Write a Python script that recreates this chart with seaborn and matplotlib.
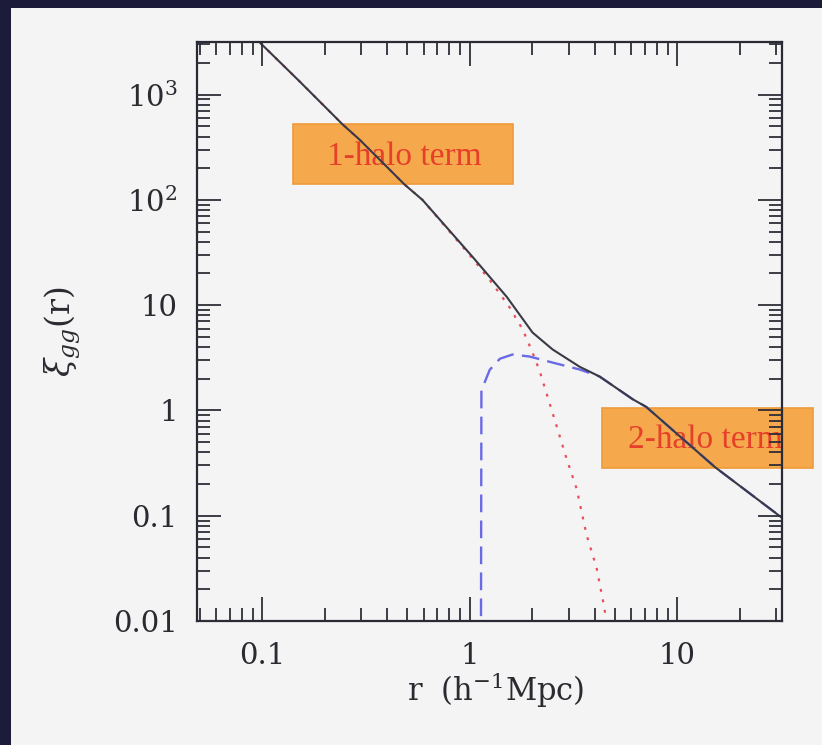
import matplotlib
matplotlib.use("Agg")
import numpy as np
import pandas as pd
import seaborn as sns
import matplotlib.pyplot as plt
from matplotlib.patches import Rectangle
from matplotlib.ticker import FixedLocator, FixedFormatter, LogLocator, NullFormatter

# Galaxy correlation function: total, 1-halo and 2-halo contributions
r_total = [0.098, 0.152, 0.245, 0.295, 0.486, 0.593, 1.03, 1.51, 2.01, 2.51,
           3.39, 4.23, 6.1, 7.1, 15.2, 31.9]
xi_total = [3100, 1330, 519, 374, 140, 100, 29, 12, 5.5, 3.8,
            2.6, 2.1, 1.28, 1.08, 0.29, 0.096]

r_one = [0.098, 0.152, 0.245, 0.295, 0.486, 0.593, 1.03, 1.29, 1.56, 1.8,
         2.01, 2.17, 2.51, 2.93, 3.28, 3.66, 4.09, 4.38, 4.57, 4.8]
xi_one = [3100, 1330, 519, 374, 140, 100, 28, 16, 9.5, 5.9,
          3.55, 2.4, 0.95, 0.35, 0.18, 0.066, 0.032, 0.016, 0.01, 0.005]

r_two = [1.13, 1.14, 1.25, 1.4, 1.61, 1.95, 2.51, 3.39, 4.23, 6.1, 7.1, 15.2, 31.9]
xi_two = [1e-4, 1.55, 2.43, 3.1, 3.4, 3.25, 2.85, 2.45, 2.1, 1.28, 1.08, 0.29, 0.096]

x_ticks = [0.1, 1, 10]
x_tick_labels = ["0.1", "1", "10"]
y_ticks = [0.01, 0.1, 1, 10, 100, 1000]
y_tick_labels = ["0.01", "0.1", "1", "10", r"$10^2$", r"$10^3$"]

sns.set_style("ticks")
plt.rcParams["font.family"] = ["DejaVu Serif"]
plt.rcParams["mathtext.fontset"] = "dejavuserif"

W, H = 822, 745
fig = plt.figure(figsize=(W / 100, H / 100), dpi=100, facecolor="#1c1b3a")
panel = "#f4f4f4"
fig.add_artist(Rectangle((11 / W, 0), 1 - 11 / W, (H - 8) / H,
                         transform=fig.transFigure, facecolor=panel,
                         edgecolor="none", zorder=-10))

ax = fig.add_axes([197 / W, (H - 621) / H, 585 / W, 579 / H])
ax.set_facecolor(panel)

df_total = pd.DataFrame({"r": r_total, "xi": xi_total})
df_one = pd.DataFrame({"r": r_one, "xi": xi_one})
df_two = pd.DataFrame({"r": r_two, "xi": xi_two})

sns.lineplot(data=df_one, x="r", y="xi", ax=ax, estimator=None, color="#e8505a",
             lw=1.6, linestyle=(0, (1.3, 3.5)), zorder=2.0)
sns.lineplot(data=df_two, x="r", y="xi", ax=ax, estimator=None, color="#6a6ae6",
             lw=1.7, linestyle=(0, (7.5, 3.5)), zorder=2.1)
sns.lineplot(data=df_total, x="r", y="xi", ax=ax, estimator=None, color="#3a3a46",
             lw=1.5, zorder=2.2)

ax.set_xscale("log")
ax.set_yscale("log")
ax.set_xlim(0.0486, 32)
ax.set_ylim(0.01, 10 ** 3.5)

ax.xaxis.set_major_locator(FixedLocator(x_ticks))
ax.xaxis.set_major_formatter(FixedFormatter(x_tick_labels))
ax.yaxis.set_major_locator(FixedLocator(y_ticks))
ax.yaxis.set_major_formatter(FixedFormatter(y_tick_labels))
ax.xaxis.set_minor_locator(LogLocator(base=10, subs=np.arange(2, 10), numticks=20))
ax.yaxis.set_minor_locator(LogLocator(base=10, subs=np.arange(2, 10), numticks=20))
ax.xaxis.set_minor_formatter(NullFormatter())
ax.yaxis.set_minor_formatter(NullFormatter())

ax.set_axisbelow(False)
ax.tick_params(which="both", direction="in", top=True, right=True,
               color="#2e2e38", width=1.3)
ax.tick_params(which="major", length=17, labelsize=21, labelcolor="#2a2a30")
ax.tick_params(which="minor", length=9.5)
ax.tick_params(axis="y", which="major", pad=14)
ax.tick_params(axis="x", which="major", pad=15)
for s in ax.spines.values():
    s.set_linewidth(1.6)
    s.set_color("#2a2a35")
    s.set_visible(True)

ax.set_xlabel(r"r  (h$^{-1}$Mpc)", fontsize=22, color="#2a2a30")
ax.set_ylabel(r"$\xi_{gg}(\mathrm{r})$", fontsize=24, color="#2a2a30")
ax.xaxis.set_label_coords(0.51, -0.085)
ax.yaxis.set_label_coords(-0.195, 0.5)

# Annotation boxes for the two regimes
boxes = [
    ((293, 124, 220, 60), "1-halo term", (404.5, 165)),
    ((602, 408, 211, 60), "2-halo term", (705, 448)),
]
for (bx, by, bw, bh), label, (tx, ty) in boxes:
    ax.add_patch(Rectangle((bx / W, (H - by - bh) / H), bw / W, bh / H,
                           transform=fig.transFigure, facecolor="#f6a84c",
                           edgecolor="#ee9a3a", lw=1.2, clip_on=False, zorder=1.5))
    ax.text(tx / W, (H - ty) / H, label, transform=fig.transFigure,
            family="Liberation Serif", fontsize=24, color="#e6402a",
            ha="center", va="baseline", zorder=1.6, clip_on=False)

fig.savefig("out.png", dpi=100, facecolor=fig.get_facecolor())
